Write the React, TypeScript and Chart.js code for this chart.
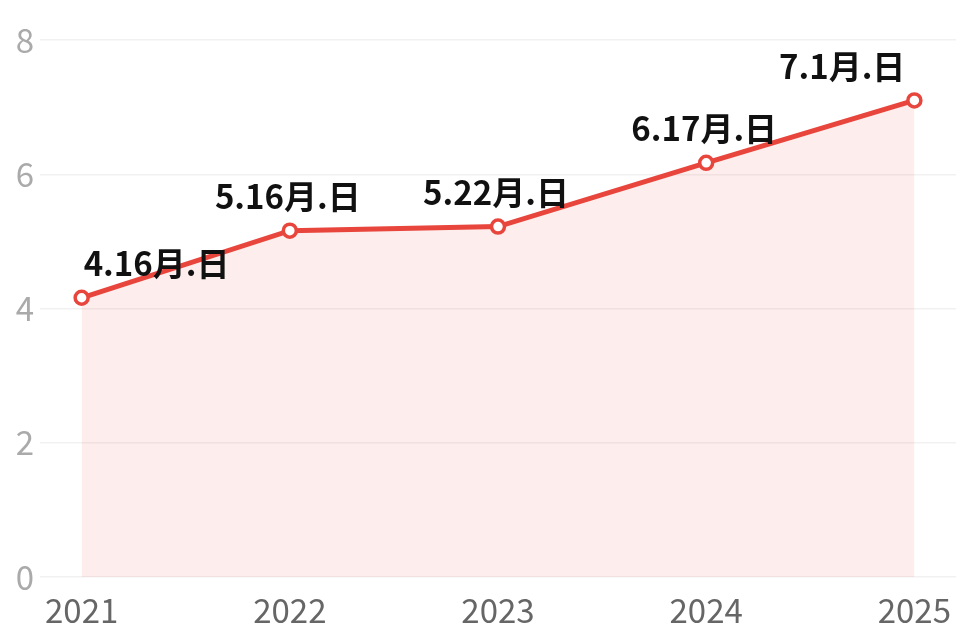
import React, { useEffect, useRef } from "react";
import { Chart, registerables } from "chart.js";

Chart.register(...registerables);

const years = [2021, 2022, 2023, 2024, 2025];
const values = [4.16, 5.16, 5.22, 6.17, 7.1];
const pointLabels = ["4.16月.日", "5.16月.日", "5.22月.日", "6.17月.日", "7.1月.日"];
const yTicks = [0, 2, 4, 6, 8];

const FONT = "'Noto Sans CJK SC', 'Noto Sans', sans-serif";
const RED = "#e8463d";

const labelPlugin = {
  id: "pointLabels",
  afterDatasetsDraw(chart: any) {
    const ctx = chart.ctx;
    const meta = chart.getDatasetMeta(0);
    ctx.save();
    ctx.font = `bold 33px ${FONT}`;
    ctx.fillStyle = "#111";
    ctx.textBaseline = "middle";
    meta.data.forEach((pt: any, i: number) => {
      const last = i === meta.data.length - 1;
      const first = i === 0;
      let x = pt.x;
      if (first) {
        ctx.textAlign = "left";
        x = pt.x + 2;
      } else if (last) {
        ctx.textAlign = "right";
        x = pt.x - 9;
      } else {
        ctx.textAlign = "center";
        x = pt.x - 2;
      }
      ctx.fillText(pointLabels[i], x, pt.y - 34);
    });
    ctx.restore();
  },
};

export default function App() {
  const ref = useRef<HTMLCanvasElement | null>(null);
  useEffect(() => {
    if (!ref.current) return;
    const chart = new Chart(ref.current, {
      type: "line",
      data: {
        datasets: [
          {
            data: years.map((y, i) => ({ x: y, y: values[i] })),
            borderColor: RED,
            borderWidth: 5,
            backgroundColor: "rgba(240, 80, 70, 0.1)",
            fill: "origin",
            tension: 0,
            pointRadius: 6.5,
            pointBorderWidth: 3.5,
            pointBackgroundColor: "#fff",
            pointBorderColor: RED,
            clip: false,
          },
        ],
      },
      options: {
        animation: false,
        responsive: false,
        layout: { autoPadding: false, padding: { top: 40, right: 4, left: 0, bottom: 0 } },
        plugins: { legend: { display: false }, tooltip: { enabled: false } },
        scales: {
          x: {
            type: "linear",
            min: 2020.8,
            max: 2025.2,
            afterBuildTicks: (scale: any) => {
              scale.ticks = years.map((v) => ({ value: v }));
            },
            afterFit: (scale: any) => {
              scale.height = 63;
            },
            grid: { display: false },
            border: { display: false },
            ticks: {
              color: "#666",
              font: { family: FONT, size: 33 },
              padding: 6,
              callback: (v: any) => String(v),
            },
          },
          y: {
            min: 0,
            max: 8,
            afterBuildTicks: (scale: any) => {
              scale.ticks = yTicks.map((v) => ({ value: v }));
            },
            afterFit: (scale: any) => {
              scale.width = 40;
            },
            grid: { color: "#f1f1f1", lineWidth: 1.5, drawTicks: false },
            border: { display: false },
            ticks: {
              color: "#aaa",
              font: { family: FONT, size: 33 },
              padding: 6,
            },
          },
        },
      },
      plugins: [labelPlugin],
    } as any);
    return () => chart.destroy();
  }, []);
  return (
    <div style={{ position: "fixed", left: 0, top: 0, width: 960, height: 640, background: "#fff" }}>
      <canvas ref={ref} width={960} height={640} style={{ width: 960, height: 640 }} />
    </div>
  );
}
